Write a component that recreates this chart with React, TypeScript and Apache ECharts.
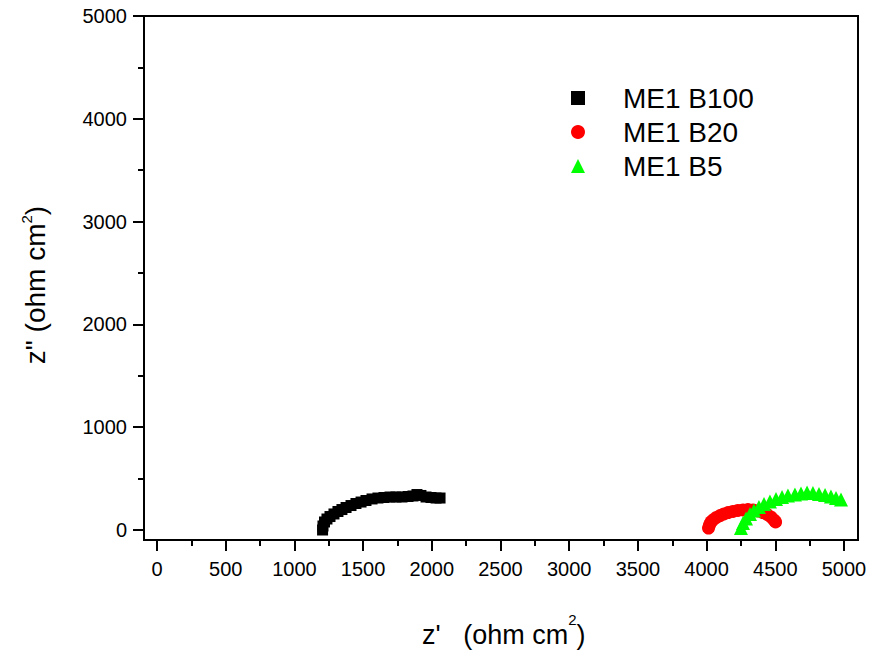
import React, { useEffect, useRef } from "react";
import * as echarts from "echarts";

const seriesNames = ["ME1 B100", "ME1 B20", "ME1 B5"];

const b100Re = [1205, 1208, 1219, 1237, 1259, 1288, 1317, 1346, 1376, 1412, 1448, 1485, 1521, 1565, 1608, 1652, 1696, 1739, 1783, 1827, 1863, 1892, 1921, 1958, 1994, 2031, 2060];
const b100Im = [0, 39, 78, 107, 131, 156, 180, 199, 219, 238, 258, 272, 287, 302, 311, 316, 321, 321, 321, 326, 331, 345, 336, 321, 316, 311, 311];

const b20Re = [4014, 4021, 4032, 4050, 4072, 4098, 4127, 4156, 4192, 4228, 4265, 4301, 4338, 4374, 4410, 4440, 4469, 4491, 4502];
const b20Im = [19, 49, 78, 102, 122, 141, 156, 170, 180, 190, 195, 199, 195, 185, 170, 151, 126, 97, 78];

const b5Re = [4250, 4265, 4287, 4316, 4345, 4381, 4418, 4461, 4505, 4549, 4592, 4643, 4687, 4731, 4774, 4818, 4862, 4905, 4942, 4978, 5015];
const b5Im = [19, 68, 112, 156, 190, 224, 253, 277, 302, 321, 336, 345, 355, 365, 360, 350, 340, 326, 311, 297, 287];

const xMin = 0;
const xMax = 5000;
const xStep = 500;
const yMin = 0;
const yMax = 5000;
const yStep = 1000;

const FONT = "'Liberation Sans', Arial, Helvetica, sans-serif";

function pairs(xs: number[], ys: number[]) {
  return xs.map((x, i) => [x, ys[i]]);
}

export default function App() {
  const ref = useRef<HTMLDivElement>(null);

  useEffect(() => {
    if (!ref.current) return;
    const chart = echarts.init(ref.current, null, { renderer: "svg" });
    const axisCommon = {
      type: "value" as const,
      splitLine: { show: false },
      axisLine: { show: true, onZero: false, lineStyle: { color: "#000", width: 2 } },
      axisTick: { show: true, inside: false, length: 11, lineStyle: { color: "#000", width: 2 } },
      minorTick: { show: true, splitNumber: 2, length: 6, lineStyle: { color: "#000", width: 2 } },
      minorSplitLine: { show: false },
    };
    chart.setOption({
      animation: false,
      backgroundColor: "#fff",
      grid: { left: 157, right: 26, top: 16, bottom: 121, containLabel: false },
      xAxis: {
        ...axisCommon,
        min: xMin,
        max: xMax,
        interval: xStep,
        offset: 10,
        axisLabel: { color: "#000", fontSize: 20, fontFamily: FONT, margin: 19, formatter: (v: number) => String(v) },
      },
      yAxis: {
        ...axisCommon,
        min: yMin,
        max: yMax,
        interval: yStep,
        offset: 13,
        axisLabel: { color: "#000", fontSize: 20, fontFamily: FONT, margin: 17, formatter: (v: number) => String(v) },
      },
      legend: {
        orient: "vertical",
        left: 566,
        top: 78,
        itemWidth: 14,
        itemHeight: 14,
        itemGap: 4,
        selectedMode: false,
        data: seriesNames,
        textStyle: { color: "#000", fontSize: 28, fontFamily: FONT, lineHeight: 30, padding: [0, 0, 0, 33] },
      },
      series: [
        {
          name: seriesNames[0],
          type: "scatter",
          symbol: "rect",
          symbolSize: 11,
          itemStyle: { color: "#000000", opacity: 1 },
          data: pairs(b100Re, b100Im),
        },
        {
          name: seriesNames[1],
          type: "scatter",
          symbol: "circle",
          symbolSize: 13,
          itemStyle: { color: "#ff0000", opacity: 1 },
          data: pairs(b20Re, b20Im),
        },
        {
          name: seriesNames[2],
          type: "scatter",
          symbol: "triangle",
          symbolSize: 14,
          itemStyle: { color: "#00ff00", opacity: 1 },
          data: pairs(b5Re, b5Im),
        },
      ],
      graphic: [
        {
          type: "rect",
          z: 100,
          shape: { x: 144, y: 16, width: 714, height: 524 },
          style: { fill: "none", stroke: "#000", lineWidth: 2 },
        },
        {
          type: "text",
          left: 422,
          top: 612,
          style: {
            text: "{a|z'   (ohm cm}{s|2}{a|)}",
            fill: "#000",
            rich: {
              a: { fontSize: 27, fontFamily: FONT, fill: "#000", color: "#000", verticalAlign: "bottom", lineHeight: 36 },
              s: { fontSize: 15, fontFamily: FONT, fill: "#000", color: "#000", verticalAlign: "top", lineHeight: 36 },
            },
          },
        },
        {
          type: "text",
          x: 34,
          y: 285,
          rotation: Math.PI / 2,
          style: {
            text: '{a|z" (ohm cm}{s|2}{a|)}',
            align: "center",
            verticalAlign: "middle",
            fill: "#000",
            rich: {
              a: { fontSize: 28, fontFamily: FONT, fill: "#000", color: "#000", verticalAlign: "bottom", lineHeight: 30 },
              s: { fontSize: 15, fontFamily: FONT, fill: "#000", color: "#000", verticalAlign: "top", lineHeight: 30 },
            },
          },
        },
      ],
    });
    return () => chart.dispose();
  }, []);

  return (
    <div
      ref={ref}
      style={{ position: "fixed", left: 0, top: 0, width: 870, height: 651, background: "#fff" }}
    />
  );
}
